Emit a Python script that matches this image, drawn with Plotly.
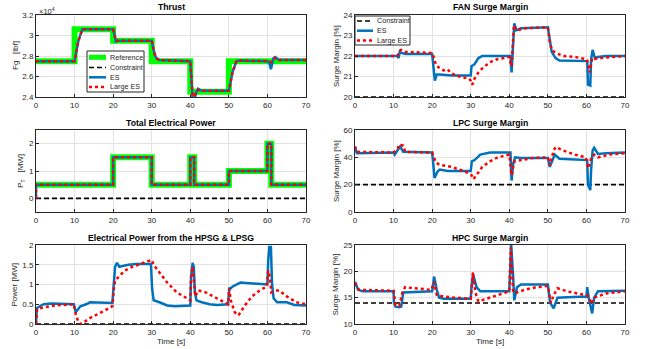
import plotly.graph_objects as go

W, H = 646, 349
FONT = "Liberation Sans, Arial, Helvetica, sans-serif"

# ---------------- DATA ----------------
time_ticks = [0, 10, 20, 30, 40, 50, 60, 70]

# Thrust (x 1e4 lbf)
thr_ref_t = [0, 10, 10, 20, 20, 30, 30, 40, 40, 50, 50, 70]
thr_ref_v = [2.75, 2.75, 3.06, 3.06, 2.95, 2.95, 2.75, 2.75, 2.45, 2.45, 2.75, 2.75]
thr_es_t = [0, 10, 10.5, 11, 12, 20, 20.3, 20.7, 21.2, 22, 30, 30.5, 31, 31.5, 32, 40, 40.3, 40.6, 41, 41.5, 42,
            43, 50, 50.5, 51, 52, 53, 60, 60.5, 60.9, 61.2, 61.6, 62, 62.5, 63, 70]
thr_es_v = [2.75, 2.75, 2.85, 2.95, 3.06, 3.06, 3.02, 2.94, 2.95, 2.95, 2.95, 2.86, 2.79, 2.77, 2.76, 2.75, 2.6,
            2.38, 2.36, 2.44, 2.48, 2.46, 2.46, 2.55, 2.65, 2.75, 2.755, 2.75, 2.73, 2.67, 2.72, 2.78, 2.79, 2.77,
            2.76, 2.76]
thr_les_t = [0, 10, 10.5, 11, 12, 20, 20.3, 20.7, 21.2, 22, 30, 30.5, 31, 31.5, 32, 40, 40.3, 40.6, 41, 41.5, 42,
             43, 50, 50.5, 51, 52, 53, 60, 60.5, 61, 61.5, 62, 63, 70]
thr_les_v = [2.75, 2.75, 2.85, 2.95, 3.06, 3.06, 3.02, 2.95, 2.95, 2.95, 2.95, 2.86, 2.79, 2.77, 2.76, 2.75, 2.6,
             2.42, 2.4, 2.45, 2.47, 2.46, 2.46, 2.55, 2.65, 2.75, 2.755, 2.75, 2.75, 2.74, 2.77, 2.78, 2.76, 2.76]
thr_ticks = [2.4, 2.6, 2.8, 3.0, 3.2]
thr_ticktext = ["2.4", "2.6", "2.8", "3", "3.2"]

# FAN surge margin [%]
fan_con = 20
fan_es_t = [0, 11, 11.3, 11.6, 12, 13, 20, 20.3, 20.7, 21.2, 22, 25, 30, 30.2, 31, 32, 33, 40.3, 40.6, 41, 41.3,
            41.8, 43, 50, 50.5, 51, 52, 53, 60.2, 60.4, 61, 61.2, 61.6, 62.2, 63, 65, 70]
fan_es_v = [22.0, 22.0, 21.9, 22.2, 22.15, 22.1, 22.1, 21.5, 20.8, 21.1, 21.1, 21.05, 21.05, 21.5, 21.6, 21.9,
            22.0, 22.0, 21.2, 22.6, 23.6, 23.25, 23.35, 23.4, 22.8, 22.2, 21.9, 21.78, 21.75, 20.6, 20.55, 21.8,
            22.3, 21.9, 21.95, 22.0, 22.0]
fan_les_t = [0, 11, 11.5, 12, 13, 20, 20.5, 21, 22, 23, 24, 25, 27, 29.5, 30, 30.4, 31, 32, 33, 35, 37, 40, 40.3,
             40.6, 41.2, 42, 44, 50, 50.5, 51, 52, 54, 57, 60, 60.5, 60.8, 61.5, 62, 63, 66, 70]
fan_les_v = [22.0, 22.0, 22.25, 22.3, 22.2, 22.15, 21.9, 21.55, 21.4, 21.3, 21.35, 21.15, 21.0, 20.9, 20.8, 20.6,
             20.9, 21.2, 21.4, 21.7, 21.85, 21.95, 21.7, 21.5, 23.5, 23.25, 23.35, 23.4, 22.7, 22.3, 22.15, 22.0,
             21.95, 21.85, 21.6, 21.2, 21.9, 21.85, 21.9, 21.95, 22.0]
fan_ticks = [20, 21, 22, 23, 24]

# Total electrical power [MW]
pt_con = 0
pt_ref_t = [0, 20, 20, 30, 30, 40, 40, 41, 41, 50, 50, 60, 60, 61, 61, 70]
pt_ref_v = [0.5, 0.5, 1.5, 1.5, 0.5, 0.5, 1.5, 1.5, 0.5, 0.5, 1.0, 1.0, 2.0, 2.0, 0.5, 0.5]
pt_es_t = [0, 0, 20, 20, 30, 30, 40, 40, 41, 41, 50, 50, 60, 60, 61, 61, 70]
pt_es_v = [0, 0.5, 0.5, 1.5, 1.5, 0.5, 0.5, 1.5, 1.5, 0.5, 0.5, 1.0, 1.0, 2.0, 2.0, 0.5, 0.5]
pt_ticks = [0, 1, 2]

# Electrical power from HPSG & LPSG [MW]
sg_con = 0
sg_es_t = [0, 0.2, 1, 2, 4, 9.8, 10.3, 10.7, 11.5, 13, 14, 19.8, 20.1, 20.5, 21, 21.6, 22.5, 24, 26, 29.8, 30.1,
           30.5, 32, 34, 36, 40, 40.2, 40.6, 40.9, 41.2, 41.6, 43, 45, 47, 49.8, 50.1, 50.4, 51, 53, 57, 60, 60.2,
           60.5, 60.9, 61.2, 61.6, 62.5, 65, 67, 70]
sg_es_v = [0, 0.4, 0.45, 0.5, 0.52, 0.5, 0.3, 0.35, 0.45, 0.5, 0.55, 0.53, 1.0, 1.45, 1.55, 1.45, 1.47, 1.5, 1.52,
           1.52, 0.9, 0.6, 0.55, 0.47, 0.45, 0.47, 1.2, 1.55, 1.45, 0.8, 0.6, 0.55, 0.5, 0.48, 0.5, 0.9, 0.9, 0.95,
           1.05, 1.03, 1.0, 1.6, 1.95, 1.95, 1.0, 0.65, 0.55, 0.55, 0.48, 0.47]
sg_les_t = [0, 0.3, 2, 5, 9.8, 10.3, 11, 11.5, 12.5, 14, 17, 19.8, 20.2, 20.5, 21.5, 23, 25, 28, 30, 30.5, 32, 34,
            36.5, 39, 40, 40.2, 40.6, 41.3, 42, 44, 47, 49.8, 50.1, 50.5, 51.5, 52.5, 54, 56, 58, 59.8, 60.2, 60.6,
            61, 62, 63, 65, 67.5, 70]
sg_les_v = [0, 0.38, 0.42, 0.47, 0.5, 0.25, 0.05, 0.0, 0.05, 0.15, 0.3, 0.45, 0.9, 1.1, 1.2, 1.35, 1.45, 1.55,
            1.62, 1.5, 1.3, 1.05, 0.8, 0.65, 0.6, 1.2, 1.45, 0.7, 0.85, 0.8, 0.65, 0.5, 0.9, 0.6, 0.3, 0.22, 0.45,
            0.7, 0.85, 0.95, 1.35, 1.2, 0.8, 0.85, 0.85, 0.7, 0.55, 0.5]
sg_ticks = [0, 0.5, 1, 1.5, 2]

# LPC surge margin [%]
lpc_con = 20
lpc_es_t = [0, 0.5, 10, 10.3, 11, 11.7, 12.5, 20, 20.3, 20.6, 21.5, 22, 24, 30, 30.3, 31, 32.5, 35, 40.3, 40.6, 41,
            41.5, 43, 50, 50.5, 51.2, 51.8, 53, 60.2, 60.4, 61, 61.2, 61.6, 62, 63, 65, 70]
lpc_es_v = [47, 43, 43.5, 42, 45, 48, 44, 43.5, 35, 25, 30, 31, 30, 30, 37, 38, 42, 43.5, 43.5, 23, 35, 40, 39.5,
            39.5, 33, 38, 42, 39, 38, 20, 16, 30, 45, 47, 42.5, 43, 43.5]
lpc_les_t = [0, 0.5, 10, 11, 11.5, 12.5, 13, 20, 21, 22, 23, 25, 27, 29.5, 30.2, 30.7, 31.5, 33, 35, 37, 40, 40.6,
             41.3, 43, 46, 50, 50.5, 51.5, 52, 54, 57, 59.8, 60.5, 61.3, 62, 63, 66, 70]
lpc_les_v = [48, 44, 43.5, 46, 49.5, 48.5, 44, 43.5, 36, 34.5, 34, 33, 31, 28.5, 27, 24, 27, 33, 37, 40, 42, 27, 37,
             38, 39.5, 40, 34, 45, 47.5, 45, 42, 40, 32, 40, 42, 40, 42, 43]
lpc_ticks = [0, 20, 40, 60]

# HPC surge margin [%]
hpc_con = 14
hpc_es_t = [0, 0.8, 2, 10, 10.1, 10.5, 11.5, 12, 12.5, 20, 20.2, 20.5, 21.2, 21.8, 23, 30, 30.2, 30.6, 31.5, 32.5,
            40, 40.2, 40.5, 41, 41.3, 42, 43, 50, 50.6, 51.5, 52.5, 55, 60, 60.2, 60.6, 61.5, 62, 63, 70]
hpc_es_v = [18, 16.5, 16.2, 16.2, 14, 13.3, 13.2, 13.3, 16, 16.2, 17, 19, 16.5, 15, 14.8, 14.8, 17, 19.5, 17, 16.2,
            16.2, 19, 25, 19, 14.5, 17, 17.5, 17.5, 14, 13, 15, 15.1, 15.2, 17, 15, 12, 15, 16.2, 16.3]
hpc_les_t = [0, 1, 10, 10.5, 11.5, 12.3, 13, 15, 19.8, 20.5, 21.2, 23, 26, 30, 30.6, 31.2, 32, 35, 38, 40, 40.4, 41,
             42, 44, 47, 50, 50.8, 51.5, 52.5, 55, 59, 60, 60.6, 61.3, 62, 65, 70]
hpc_les_v = [17.8, 16.5, 16.3, 13.6, 13.5, 16, 17, 16.8, 16.5, 18, 15.5, 15.2, 15, 14.8, 19.8, 16, 14.3, 15, 15.8,
             16.2, 24.5, 16, 16, 16.5, 17, 17.2, 14, 15.5, 16.8, 16.2, 15.6, 15.5, 15.2, 13.8, 15, 15.8, 16.2]
hpc_ticks = [10, 15, 20, 25]

# ---------------- STYLE ----------------
C_ES = "#0072BD"
C_LES = "#FF0000"
C_REF = "#00FF00"
C_AX = "#262626"
REF_LINE = dict(color=C_REF, width=6)
CON_LINE = dict(color="black", width=1.6, dash="5px,3px")
ES_LINE = dict(color=C_ES, width=2.5)
LES_LINE = dict(color=C_LES, width=2.5, dash="dot")

col_px = [(36, 306), (355, 625)]
row_px = [(15, 97), (130, 212), (245, 324)]


def px(x):
    return x / W


def py(y):
    return 1 - y / H


fig = go.Figure()


def add(idx, x, y, line, name):
    sfx = "" if idx == 1 else str(idx)
    fig.add_trace(go.Scatter(x=x, y=y, mode="lines", line=line, name=name, showlegend=False,
                             xaxis="x" + sfx, yaxis="y" + sfx, hoverinfo="skip"))


# panel 1 Thrust
add(1, thr_ref_t, thr_ref_v, REF_LINE, "Reference")
add(1, thr_es_t, thr_es_v, ES_LINE, "ES")
add(1, thr_les_t, thr_les_v, LES_LINE, "Large ES")
# panel 2 FAN
add(2, [0, 70], [fan_con, fan_con], CON_LINE, "Constraint")
add(2, fan_es_t, fan_es_v, ES_LINE, "ES")
add(2, fan_les_t, fan_les_v, LES_LINE, "Large ES")
# panel 3 Total power
add(3, pt_ref_t, pt_ref_v, REF_LINE, "Reference")
add(3, [0, 70], [pt_con, pt_con], CON_LINE, "Constraint")
add(3, pt_es_t, pt_es_v, ES_LINE, "ES")
add(3, pt_es_t, pt_es_v, LES_LINE, "Large ES")
# panel 4 LPC
add(4, [0, 70], [lpc_con, lpc_con], CON_LINE, "Constraint")
add(4, lpc_es_t, lpc_es_v, ES_LINE, "ES")
add(4, lpc_les_t, lpc_les_v, LES_LINE, "Large ES")
# panel 5 HPSG & LPSG
add(5, [0, 70], [sg_con, sg_con], CON_LINE, "Constraint")
add(5, sg_es_t, sg_es_v, ES_LINE, "ES")
add(5, sg_les_t, sg_les_v, LES_LINE, "Large ES")
# panel 6 HPC
add(6, [0, 70], [hpc_con, hpc_con], CON_LINE, "Constraint")
add(6, hpc_es_t, hpc_es_v, ES_LINE, "ES")
add(6, hpc_les_t, hpc_les_v, LES_LINE, "Large ES")

panels = [
    dict(yr=[2.4, 3.2], yt=thr_ticks, ytt=thr_ticktext, title="Thrust", ylab="Fg   [lbf]", ylx=15),
    dict(yr=[20, 24], yt=fan_ticks, ytt=None, title="FAN Surge Margin", ylab="Surge Margin [%]", ylx=336),
    dict(yr=[-0.5, 2.5], yt=pt_ticks, ytt=None, title="Total Electrical Power", ylab="P<sub>T</sub>   [MW]", ylx=21),
    dict(yr=[0, 60], yt=lpc_ticks, ytt=None, title="LPC Surge Margin", ylab="Surge Margin [%]", ylx=336),
    dict(yr=[0, 2], yt=sg_ticks, ytt=None, title="Electrical Power from the HPSG & LPSG", ylab="Power [MW]", ylx=14),
    dict(yr=[10, 25], yt=hpc_ticks, ytt=None, title="HPC Surge Margin", ylab="Surge Margin [%]", ylx=335),
]

layout = dict(width=W, height=H, margin=dict(l=0, r=0, t=0, b=0), paper_bgcolor="white",
              plot_bgcolor="white", showlegend=False, font=dict(family=FONT, color=C_AX))
annotations = []
shapes = []
tickfont = dict(family=FONT, size=8, color=C_AX)

for i, p in enumerate(panels):
    idx = i + 1
    r, c = divmod(i, 2)
    x0, x1 = col_px[c]
    y0, y1 = row_px[r]
    sfx = "" if idx == 1 else str(idx)
    common = dict(showline=True, mirror=True, linecolor=C_AX, linewidth=1, ticks="inside", ticklen=3,
                  tickcolor=C_AX, showgrid=True, gridcolor="#E2E2E2", gridwidth=1, zeroline=False,
                  tickfont=tickfont, automargin=False, fixedrange=True)
    layout["xaxis" + sfx] = dict(common, domain=[px(x0), px(x1)], anchor="y" + sfx, range=[0, 70],
                                 tickvals=time_ticks, layer="below traces")
    ydict = dict(common, domain=[py(y1), py(y0)], anchor="x" + sfx, range=p["yr"], tickvals=p["yt"])
    if p["ytt"] is not None:
        ydict["ticktext"] = p["ytt"]
    layout["yaxis" + sfx] = ydict
    # title
    annotations.append(dict(text="<b>%s</b>" % p["title"], x=px((x0 + x1) / 2), y=py(y0 - 7.5),
                            xref="paper", yref="paper", showarrow=False, xanchor="center", yanchor="middle",
                            font=dict(family=FONT, size=8.7, color="black")))
    # y label
    annotations.append(dict(text=p["ylab"], x=px(p["ylx"]), y=py((y0 + y1) / 2), xref="paper", yref="paper",
                            showarrow=False, textangle=-90, xanchor="center", yanchor="middle",
                            font=dict(family=FONT, size=8, color=C_AX)))
    if r == 2:
        annotations.append(dict(text="Time [s]", x=px((x0 + x1) / 2), y=py(341.5), xref="paper", yref="paper",
                                showarrow=False, xanchor="center", yanchor="middle",
                                font=dict(family=FONT, size=8, color=C_AX)))

# exponent label for thrust
annotations.append(dict(text="\u00d710<sup>4</sup>", x=px(37), y=py(11), xref="paper", yref="paper",
                        showarrow=False, xanchor="left", yanchor="middle",
                        font=dict(family=FONT, size=7.5, color=C_AX)))


def legend_box(bx0, by0, bx1, by1, entries, lx0, lx1, tx, ys):
    shapes.append(dict(type="rect", xref="paper", yref="paper", x0=px(bx0), x1=px(bx1), y0=py(by1), y1=py(by0),
                       line=dict(color=C_AX, width=1), fillcolor="white", layer="above"))
    for (name, ln), yy in zip(entries, ys):
        shapes.append(dict(type="line", xref="paper", yref="paper", x0=px(lx0), x1=px(lx1), y0=py(yy),
                           y1=py(yy), line=ln, layer="above"))
        annotations.append(dict(text=name, x=px(tx), y=py(yy), xref="paper", yref="paper", showarrow=False,
                                xanchor="left", yanchor="middle", font=dict(family=FONT, size=7.2, color=C_AX)))


legend_box(87, 51, 144, 92,
           [("Reference", dict(color=C_REF, width=5)), ("Constraint", CON_LINE), ("ES", ES_LINE),
            ("Large ES", LES_LINE)],
           89, 106, 107.5, [57.3, 67.5, 77.3, 87])
legend_box(355, 16, 410, 45,
           [("Constraint", CON_LINE), ("ES", ES_LINE), ("Large ES", LES_LINE)],
           357, 373, 375, [21, 30.7, 40.5])

layout["annotations"] = annotations
layout["shapes"] = shapes
fig.update_layout(**layout)
fig.write_html("out.html", config={"displayModeBar": False},
               post_script="document.body.style.margin='0px';document.body.style.overflow='hidden';")
